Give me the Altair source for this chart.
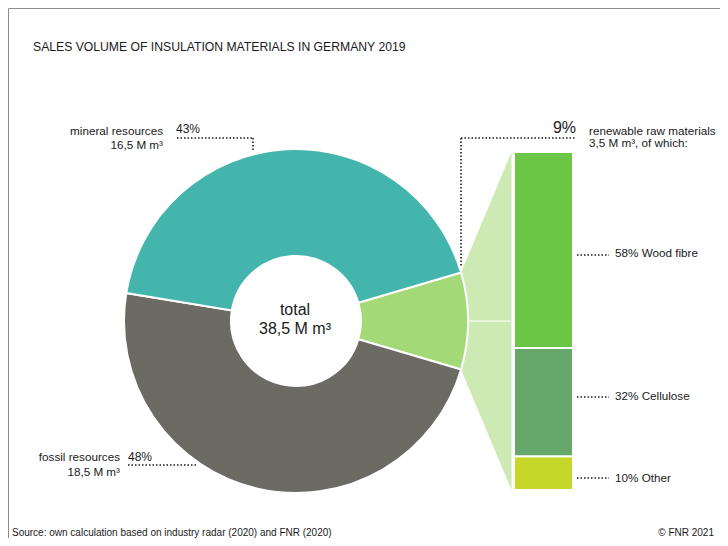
import math
import pandas as pd
import altair as alt

# ---------------- data ----------------
main_names = ["renewable raw materials", "fossil resources", "mineral resources"]
main_values = [3.5, 18.5, 16.5]          # M m³
main_colors = ["#a3d977", "#6b6b63", "#44b5ad"]

sub_names = ["Other", "Cellulose", "Wood fibre"]
sub_shares = [10, 32, 58]                # % of renewable
sub_colors = ["#c5d82a", "#66a86b", "#6bc645"]

title_text = "SALES VOLUME OF INSULATION MATERIALS IN GERMANY 2019"
source_text = "Source: own calculation based on industry radar (2020) and FNR (2020)"
copyright_text = "©  FNR 2021"

# ---------------- layout ----------------
W, H = 712, 530
CX, CY = 288, 313
R_OUT, R_IN = 172, 65
BAR_X0, BAR_X1, BAR_TOP, BAR_BOT = 506, 565, 144, 482
FONT = "Liberation Sans"
INK = "#1a1a1a"

total = sum(main_values)
ren_frac = main_values[0] / total
a0 = math.pi / 2 - ren_frac * math.pi
a1 = math.pi / 2 + ren_frac * math.pi


def fmt(v):
    return f"{v:.1f}".replace(".", ",") + " M m³"


def pct(v):
    return f"{round(v / total * 100)}%"


X = lambda f: alt.X(f, type="quantitative", scale=None, axis=None)
Y = lambda f: alt.Y(f, type="quantitative", scale=None, axis=None)

# frame
frame = alt.Chart(pd.DataFrame({"x": [0.5, 0.5], "y": [0.5, 0.5], "x2": [W, 0.5], "y2": [0.5, H]})).mark_rule(
    color="#8c8c8c", strokeWidth=1
).encode(x=X("x"), y=Y("y"), x2="x2", y2="y2")

# connector
p0 = (CX + R_OUT * math.sin(a0), CY - R_OUT * math.cos(a0))
p1 = (CX + R_OUT * math.sin(a1), CY - R_OUT * math.cos(a1))
conn_df = pd.DataFrame({"x": [p0[0], BAR_X0 - 2.5], "y": [p0[1], BAR_TOP], "y2": [p1[1], BAR_BOT]})
connector = alt.Chart(conn_df).mark_area(orient="vertical", color="#cdeab5", interpolate="linear").encode(
    x=X("x"), y=Y("y"), y2="y2"
)
divider = alt.Chart(pd.DataFrame({"x": [p0[0]], "x2": [BAR_X0 - 2.5], "y": [CY]})).mark_rule(
    color="white", strokeWidth=1
).encode(x=X("x"), x2="x2", y=Y("y"))

# donut
pie_df = pd.DataFrame({"name": main_names, "value": main_values, "ord": [0, 1, 2]})
donut = alt.Chart(pie_df).mark_arc(innerRadius=R_IN, outerRadius=R_OUT, stroke="white", strokeWidth=2).encode(
    theta=alt.Theta("value:Q", stack=True, scale=alt.Scale(range=[a0, a0 + 2 * math.pi])),
    order=alt.Order("ord:Q"),
    color=alt.Color("name:N", scale=alt.Scale(domain=main_names, range=main_colors), legend=None),
    x=alt.value(CX),
    y=alt.value(CY),
)

# stacked bar
bar_df = pd.DataFrame({"name": sub_names, "share": sub_shares, "ord": [0, 1, 2]})
bar = (
    alt.Chart(bar_df)
    .transform_stack(stack="share", as_=["s0", "s1"], groupby=[], sort=[alt.SortField("ord", order="ascending")])
    .mark_rect(stroke="white", strokeWidth=2)
    .encode(
        y=alt.Y("s1:Q", scale=alt.Scale(domain=[0, 100], range=[BAR_BOT, BAR_TOP]), axis=None),
        y2="s0:Q",
        color=alt.Color("name:N", scale=alt.Scale(domain=sub_names, range=sub_colors), legend=None),
        x=alt.value(BAR_X0),
        x2=alt.value(BAR_X1),
    )
)

# dotted leader lines
lines_df = pd.DataFrame(
    [
        (169, 130, 245, 130), (245, 130, 245, 142),      # mineral
        (120, 457, 189, 457),                            # fossil
        (453, 130, 567, 130), (453, 130, 453, 258),      # renewable
        (569, 247, 601, 247), (569, 389, 601, 389), (569, 470, 601, 470),
    ],
    columns=["x", "y", "x2", "y2"],
)
leaders = alt.Chart(lines_df).mark_rule(color=INK, strokeWidth=1.6, strokeDash=[1.5, 2]).encode(
    x=X("x"), y=Y("y"), x2="x2", y2="y2"
)


def txt(rows, align="left", size=11.7, font=FONT, color=INK):
    df = pd.DataFrame(rows, columns=["x", "y", "t"])
    return alt.Chart(df).mark_text(
        align=align, baseline="alphabetic", fontSize=size, font=font, color=color
    ).encode(x=X("x"), y=Y("y"), text="t:N")


title = txt([(25, 43, title_text)], size=12.2)
right_labels = txt(
    [
        (155, 127, main_names[2]), (155, 141, fmt(main_values[2])),
        (112, 453, main_names[1]), (112, 468, fmt(main_values[1])),
    ],
    align="right",
)
pct_labels = txt([(168, 125, pct(main_values[2])), (120, 453, pct(main_values[1]))], size=12)
ren_pct = txt([(568, 125, pct(main_values[0]))], align="right", size=16)
ren_labels = txt([(581, 127, main_names[0]), (581, 139, fmt(main_values[0]) + ", of which:")])
sub_labels = txt(
    [
        (607, 249, f"{sub_shares[2]}% {sub_names[2]}"),
        (607, 392, f"{sub_shares[1]}% {sub_names[1]}"),
        (607, 474, f"{sub_shares[0]}% {sub_names[0]}"),
    ]
)
center = txt([(287, 307, "total"), (287, 326, fmt(total))], align="center", size=16)
source = txt([(4, 528, source_text)], size=10)
copy = txt([(706, 528, copyright_text)], align="right", size=10)

chart = (
    alt.layer(
        frame, connector, divider, donut, bar, leaders,
        title, right_labels, pct_labels, ren_pct, ren_labels, sub_labels, center, source, copy,
    )
    .resolve_scale(x="independent", y="independent", color="independent", theta="independent")
    .properties(width=W, height=H, padding=0, autosize="none", background="white")
    .configure_view(stroke=None)
)

chart.save("out.html", embed_options={"renderer": "svg", "actions": False})
